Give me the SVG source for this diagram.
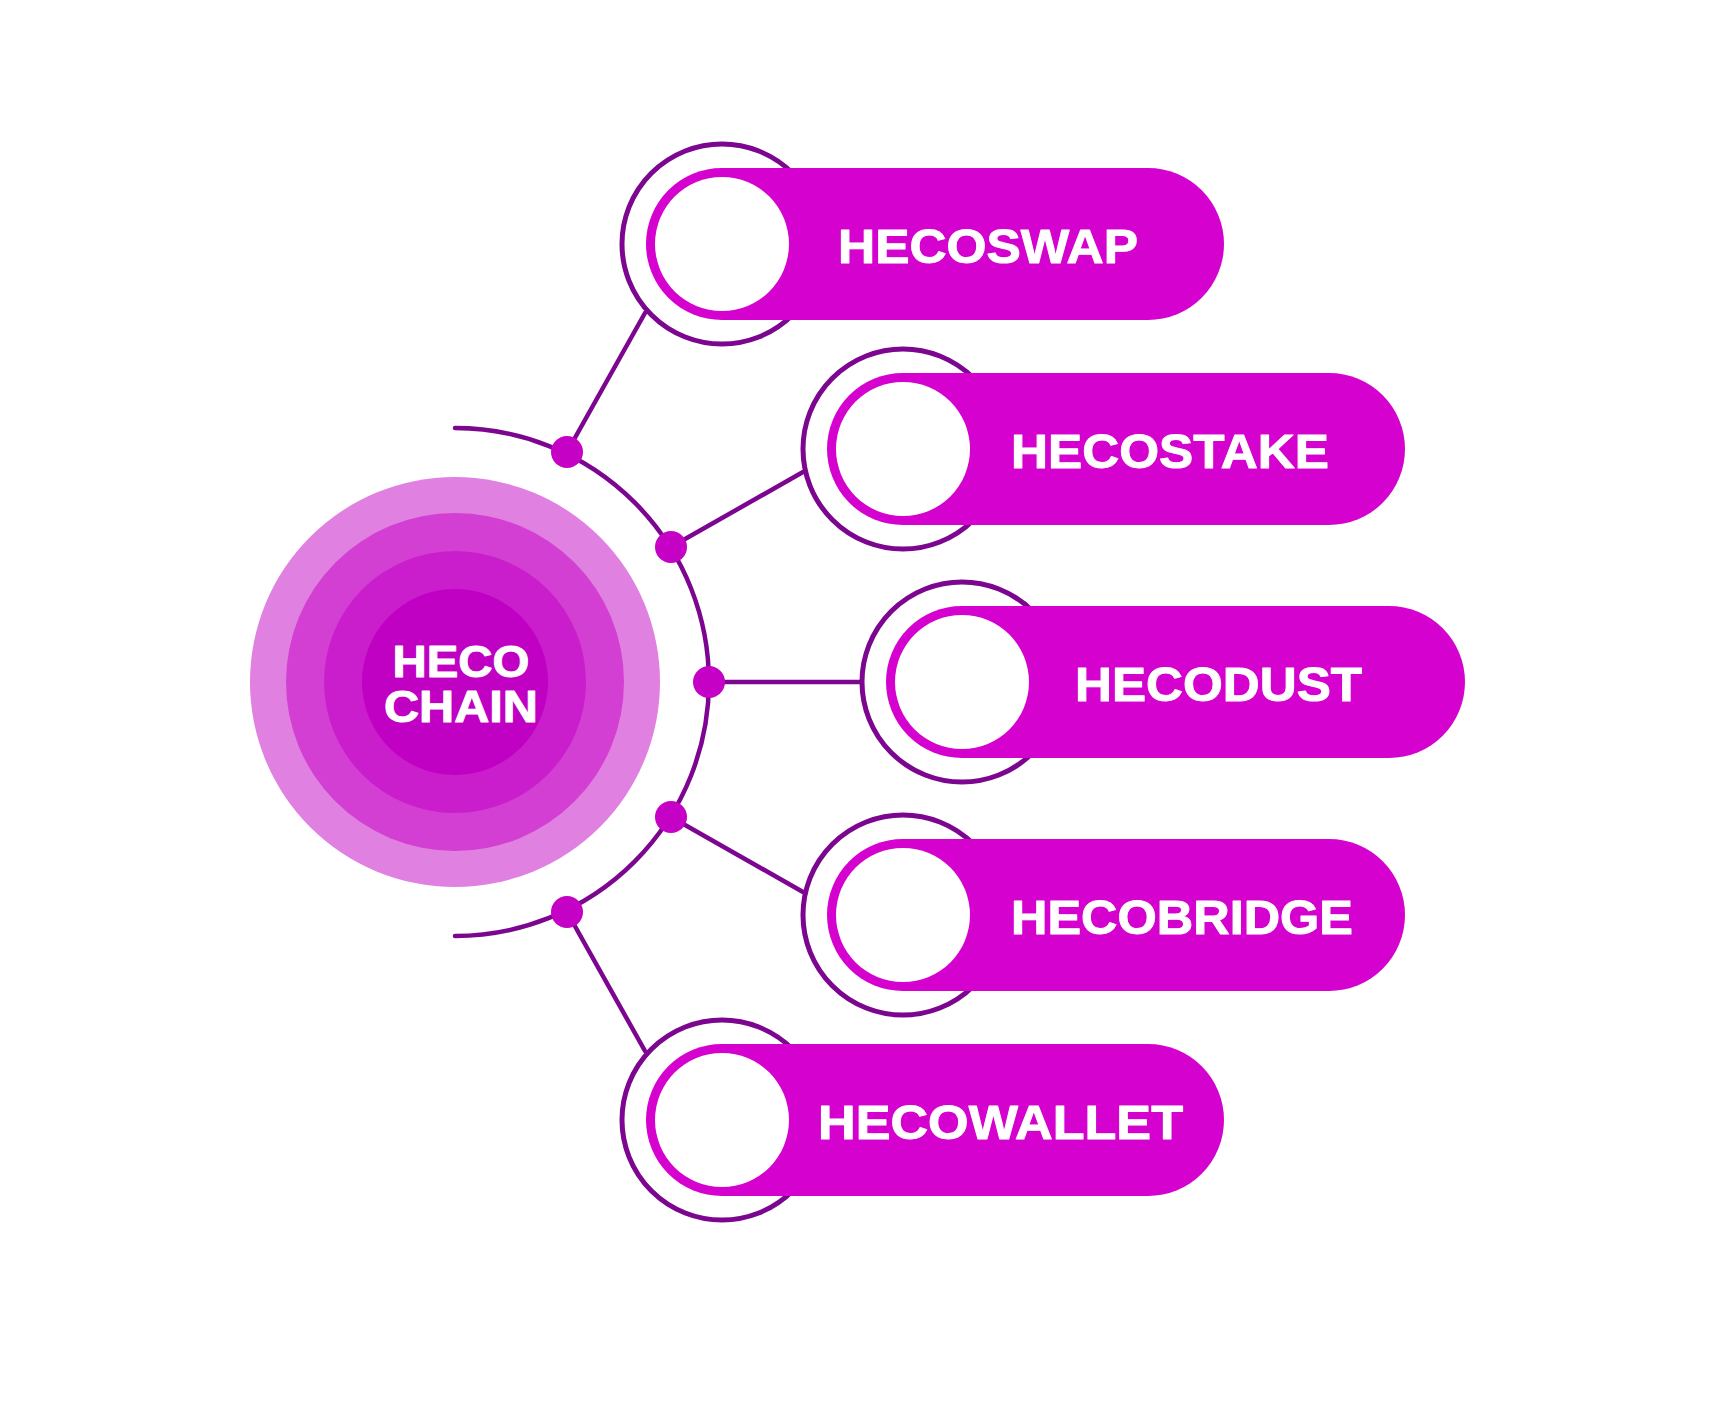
<svg xmlns="http://www.w3.org/2000/svg" width="1714" height="1428" viewBox="0 0 1714 1428">
<style>
.ring{fill:#ffffff;stroke:#7C068F;stroke-width:5}
.pill{fill:#D502CF}
.hole{fill:#ffffff}
.lbl{font-family:"Liberation Sans",Arial,sans-serif;font-weight:bold;font-size:49px;fill:#ffffff;stroke:#ffffff;stroke-width:1;stroke-linejoin:round}
.ctr{font-family:"Liberation Sans",Arial,sans-serif;font-weight:bold;font-size:45px;fill:#ffffff;stroke:#ffffff;stroke-width:1;stroke-linejoin:round;text-anchor:middle}
.wire{fill:none;stroke:#7C068F;stroke-width:4.5;stroke-linecap:round}
.dot{fill:#C401C4}
</style>
<rect width="1714" height="1428" fill="#ffffff"/>
<g id="connectors">
<path class="wire" d="M455,428 A254,254 0 0 1 455,936"/>
<line class="wire" x1="567" y1="452" x2="645" y2="313"/>
<line class="wire" x1="671" y1="547" x2="803" y2="472"/>
<line class="wire" x1="709" y1="682" x2="862" y2="682"/>
<line class="wire" x1="671" y1="817" x2="803" y2="892"/>
<line class="wire" x1="567" y1="912" x2="645" y2="1051"/>
<circle class="dot" cx="567" cy="452" r="16"/>
<circle class="dot" cx="671" cy="547" r="16"/>
<circle class="dot" cx="709" cy="682" r="16"/>
<circle class="dot" cx="671" cy="817" r="16"/>
<circle class="dot" cx="567" cy="912" r="16"/>
</g>
<g id="heco-chain">
<circle cx="455" cy="682" r="205" fill="#E080E0"/>
<circle cx="455" cy="682" r="169" fill="#D23FD2"/>
<circle cx="455" cy="682" r="131" fill="#CA1ECC"/>
<circle cx="455" cy="682" r="93" fill="#C000C2"/>
<text class="ctr" x="461" y="677" textLength="137" lengthAdjust="spacingAndGlyphs">HECO</text>
<text class="ctr" x="461" y="722" textLength="154" lengthAdjust="spacingAndGlyphs">CHAIN</text>
</g>
<g id="hecoswap">
<circle class="ring" cx="722" cy="244" r="100"/>
<rect class="pill" x="646" y="168" width="578" height="152" rx="76"/>
<circle class="hole" cx="722" cy="244" r="67"/>
<text class="lbl" x="838" y="263" textLength="300" lengthAdjust="spacingAndGlyphs">HECOSWAP</text>
</g>
<g id="hecostake">
<circle class="ring" cx="903" cy="449" r="100"/>
<rect class="pill" x="827" y="373" width="578" height="152" rx="76"/>
<circle class="hole" cx="903" cy="449" r="67"/>
<text class="lbl" x="1011" y="468" textLength="318" lengthAdjust="spacingAndGlyphs">HECOSTAKE</text>
</g>
<g id="hecodust">
<circle class="ring" cx="962" cy="682" r="100"/>
<rect class="pill" x="886" y="606" width="579" height="152" rx="76"/>
<circle class="hole" cx="962" cy="682" r="67"/>
<text class="lbl" x="1075" y="701" textLength="287" lengthAdjust="spacingAndGlyphs">HECODUST</text>
</g>
<g id="hecobridge">
<circle class="ring" cx="903" cy="915" r="100"/>
<rect class="pill" x="827" y="839" width="578" height="152" rx="76"/>
<circle class="hole" cx="903" cy="915" r="67"/>
<text class="lbl" x="1011" y="934" textLength="342" lengthAdjust="spacingAndGlyphs">HECOBRIDGE</text>
</g>
<g id="hecowallet">
<circle class="ring" cx="722" cy="1120" r="100"/>
<rect class="pill" x="646" y="1044" width="578" height="152" rx="76"/>
<circle class="hole" cx="722" cy="1120" r="67"/>
<text class="lbl" x="818" y="1139" textLength="365" lengthAdjust="spacingAndGlyphs">HECOWALLET</text>
</g>
</svg>
